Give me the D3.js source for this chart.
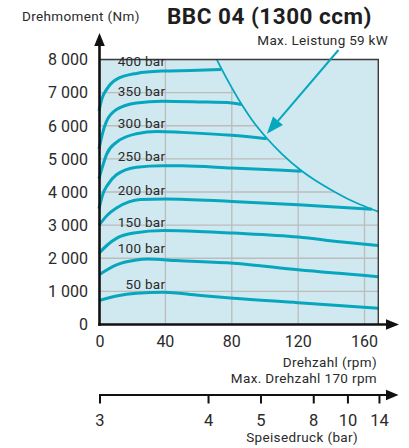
<!DOCTYPE html>
<html><head><meta charset="utf-8">
<script src="https://cdn.jsdelivr.net/npm/d3@7"></script>
<style>
html,body{margin:0;padding:0;background:#fff;}
svg{display:block;font-family:Roboto,"DejaVu Sans",sans-serif;}
</style>
</head><body>
<svg id="c" width="409" height="448"></svg>
<script>
// ---------- data ----------
const rpmTicks = [0, 40, 80, 120, 160];
const torqueTicks = [0, 1000, 2000, 3000, 4000, 5000, 6000, 7000, 8000];
const torqueTickLabels = ["0", "1 000", "2 000", "3 000", "4 000", "5 000", "6 000", "7 000", "8 000"];

const pressureNames = ["400 bar", "350 bar", "300 bar", "250 bar", "200 bar", "150 bar", "100 bar", "50 bar"];
const pressureLabelTorque = [7800, 6890, 5935, 4930, 3918, 2958, 2153, 1064];

const curve400 = [[0,6450],[2,6850],[4.5,7090],[10.5,7400],[22.6,7580],[38,7650],[55,7670],[73.5,7700]];
const curve350 = [[0,5300],[2,5750],[4.5,6130],[10.5,6490],[22.6,6690],[38,6740],[60,6720],[80,6690],[86,6640]];
const curve300 = [[0,4400],[2,4750],[4.5,5130],[10.5,5500],[22.6,5760],[35,5830],[50,5800],[80,5710],[101,5610]];
const curve250 = [[0,3500],[2.5,3960],[5,4200],[10.5,4520],[22.6,4750],[38,4795],[50,4790],[80,4725],[122,4630]];
const curve200 = [[0,3000],[5,3300],[10.5,3515],[18,3700],[25,3770],[40,3790],[80,3715],[120,3615],[164.5,3480]];
const curve150 = [[0,2150],[5,2400],[10.5,2600],[21,2760],[39,2835],[60,2810],[81,2760],[120,2640],[145,2500],[168.3,2385]];
const curve100 = [[0,1500],[10.5,1800],[22.6,1950],[29,1975],[46.6,1930],[81,1850],[120,1650],[168.3,1445]];
const curve50  = [[0,720],[10.5,860],[22.6,945],[39,975],[60,880],[81,790],[120,660],[168.3,490]];
const pressureCurves = [curve400, curve350, curve300, curve250, curve200, curve150, curve100, curve50];

const maxPower = [[71,8000],[74,7700],[80,7150],[86,6640],[92,6190],[101,5630],[110,5160],[122,4640],[130,4360],[140,4060],[150,3790],[160,3570],[164.5,3480],[168.3,3410]];

const feedPressureTicks = [3, 4, 5, 8, 10, 14];
const feedPressureRpm = [0.6, 66, 97.6, 129.4, 150, 169];

// ---------- drawing ----------
const teal = "#06a7be", bg = "#d0e8ef", grid = "#bcbcbc", ink = "#2a2a2a";
const svg = d3.select("#c");
const x = d3.scaleLinear().domain([0, 168.3]).range([99, 378.3]);
const y = d3.scaleLinear().domain([0, 8000]).range([324.5, 59.5]);

// background
svg.append("rect").attr("x", x(0)).attr("y", y(8000))
  .attr("width", x(168.3) - x(0)).attr("height", y(0) - y(8000)).attr("fill", bg);

// clip to region under max power curve
const clipPts = [[0,0],[0,8000]].concat(maxPower).concat([[168.3,0]]);
svg.append("clipPath").attr("id", "under")
  .append("path").attr("d", d3.line().x(d => x(d[0])).y(d => y(d[1])).curve(d3.curveLinear)(clipPts));

const g = svg.append("g").attr("clip-path", "url(#under)");
g.selectAll(".hg").data(torqueTicks.slice(1)).join("line")
  .attr("x1", x(0)).attr("x2", x(168.3)).attr("y1", d => y(d)).attr("y2", d => y(d))
  .attr("stroke", grid).attr("stroke-width", 1.3);
g.selectAll(".vg").data(rpmTicks.slice(1)).join("line")
  .attr("x1", d => x(d)).attr("x2", d => x(d)).attr("y1", y(0)).attr("y2", y(8000))
  .attr("stroke", grid).attr("stroke-width", 1.3);

// pressure curves
const line = d3.line().x(d => x(d[0])).y(d => y(d[1])).curve(d3.curveMonotoneX);
svg.selectAll(".pc").data(pressureCurves).join("path")
  .attr("d", line).attr("fill", "none").attr("stroke", teal).attr("stroke-width", 3)
  .attr("stroke-linecap", "butt");

// max power curve
svg.append("path").attr("d", line(maxPower)).attr("fill", "none")
  .attr("stroke", teal).attr("stroke-width", 1.8);

// border top/right
svg.append("path")
  .attr("d", `M${x(0)},${y(8000)}H${x(168.3)}V${y(0)}`)
  .attr("fill", "none").attr("stroke", "#3a3a3a").attr("stroke-width", 1.4);

// pressure labels
svg.selectAll(".pl").data(pressureNames).join("text")
  .attr("x", x(40)).attr("y", (d, i) => y(pressureLabelTorque[i]))
  .attr("text-anchor", "end").attr("font-size", 13.5).attr("letter-spacing", 0.3)
  .attr("fill", ink).text(d => d);

// axes
const axW = 2.6;
svg.append("line").attr("x1", 99.5).attr("x2", 99.5).attr("y1", y(0) + 1.3).attr("y2", 44)
  .attr("stroke", "#111").attr("stroke-width", axW);
svg.append("path").attr("d", "M99.5,33 L94.2,46 L104.8,46 Z").attr("fill", "#111");
svg.append("line").attr("x1", 98.2).attr("x2", 388).attr("y1", y(0)).attr("y2", y(0))
  .attr("stroke", "#111").attr("stroke-width", axW);
svg.append("path").attr("d", `M399,${y(0)} L386,${y(0)-5.3} L386,${y(0)+5.3} Z`).attr("fill", "#111");

// y tick labels
svg.selectAll(".yl").data(torqueTicks).join("text")
  .attr("x", 88).attr("y", d => y(d)).attr("dy", "0.36em")
  .attr("text-anchor", "end").attr("font-size", 16).attr("fill", ink)
  .text((d, i) => torqueTickLabels[i]);

// x tick labels
svg.selectAll(".xl").data(rpmTicks).join("text")
  .attr("x", d => x(d) + (d === 0 ? 1 : 0)).attr("y", 347)
  .attr("text-anchor", "middle").attr("font-size", 16).attr("fill", ink)
  .text(d => d);

// texts
svg.append("text").attr("x", 22).attr("y", 21).attr("font-size", 13.5).attr("letter-spacing", 0.35)
  .attr("fill", ink).text("Drehmoment (Nm)");
svg.append("text").attr("x", 167).attr("y", 23.5).attr("font-size", 22.5).attr("font-weight", 700)
  .attr("letter-spacing", 0.5).attr("fill", "#1e1e1e").text("BBC 04 (1300 ccm)");
svg.append("text").attr("x", 388).attr("y", 45).attr("text-anchor", "end").attr("font-size", 13.5)
  .attr("letter-spacing", 0.3).attr("fill", ink).text("Max. Leistung 59 kW");
svg.append("text").attr("x", 377).attr("y", 366.5).attr("text-anchor", "end").attr("font-size", 13.5)
  .attr("letter-spacing", 0.35).attr("fill", ink).text("Drehzahl (rpm)");
svg.append("text").attr("x", 377).attr("y", 383).attr("text-anchor", "end").attr("font-size", 13.5)
  .attr("letter-spacing", 0.35).attr("fill", ink).text("Max. Drehzahl 170 rpm");

// pointer arrow to max power curve
const tip = [x(101) + 0.3, y(5760)], from = [338.5, 50];
const ang = Math.atan2(tip[1] - from[1], tip[0] - from[0]);
const hl = 17, hw = 6.5;
const bx = tip[0] - hl * Math.cos(ang), by = tip[1] - hl * Math.sin(ang);
svg.append("line").attr("x1", from[0]).attr("y1", from[1]).attr("x2", bx).attr("y2", by)
  .attr("stroke", teal).attr("stroke-width", 2);
svg.append("path").attr("d",
  `M${tip[0]},${tip[1]} L${bx + hw*Math.sin(ang)},${by - hw*Math.cos(ang)} L${bx - hw*Math.sin(ang)},${by + hw*Math.cos(ang)} Z`)
  .attr("fill", teal);

// feed pressure axis
const fy = 395;
svg.append("line").attr("x1", 99).attr("x2", 387).attr("y1", fy).attr("y2", fy)
  .attr("stroke", "#111").attr("stroke-width", 2.2);
svg.append("path").attr("d", `M398.5,${fy} L386,${fy-5.3} L386,${fy+5.3} Z`).attr("fill", "#111");
svg.selectAll(".ft").data(feedPressureRpm).join("line")
  .attr("x1", d => x(d)).attr("x2", d => x(d)).attr("y1", fy).attr("y2", fy + 8.5)
  .attr("stroke", "#111").attr("stroke-width", 2);
svg.selectAll(".fl").data(feedPressureTicks).join("text")
  .attr("x", (d, i) => x(feedPressureRpm[i])).attr("y", 426)
  .attr("text-anchor", "middle").attr("font-size", 16.5).attr("fill", ink).text(d => d);
svg.append("text").attr("x", 358).attr("y", 442).attr("text-anchor", "end").attr("font-size", 13.5)
  .attr("letter-spacing", 0.35).attr("fill", ink).text("Speisedruck (bar)");
</script>
</body></html>
